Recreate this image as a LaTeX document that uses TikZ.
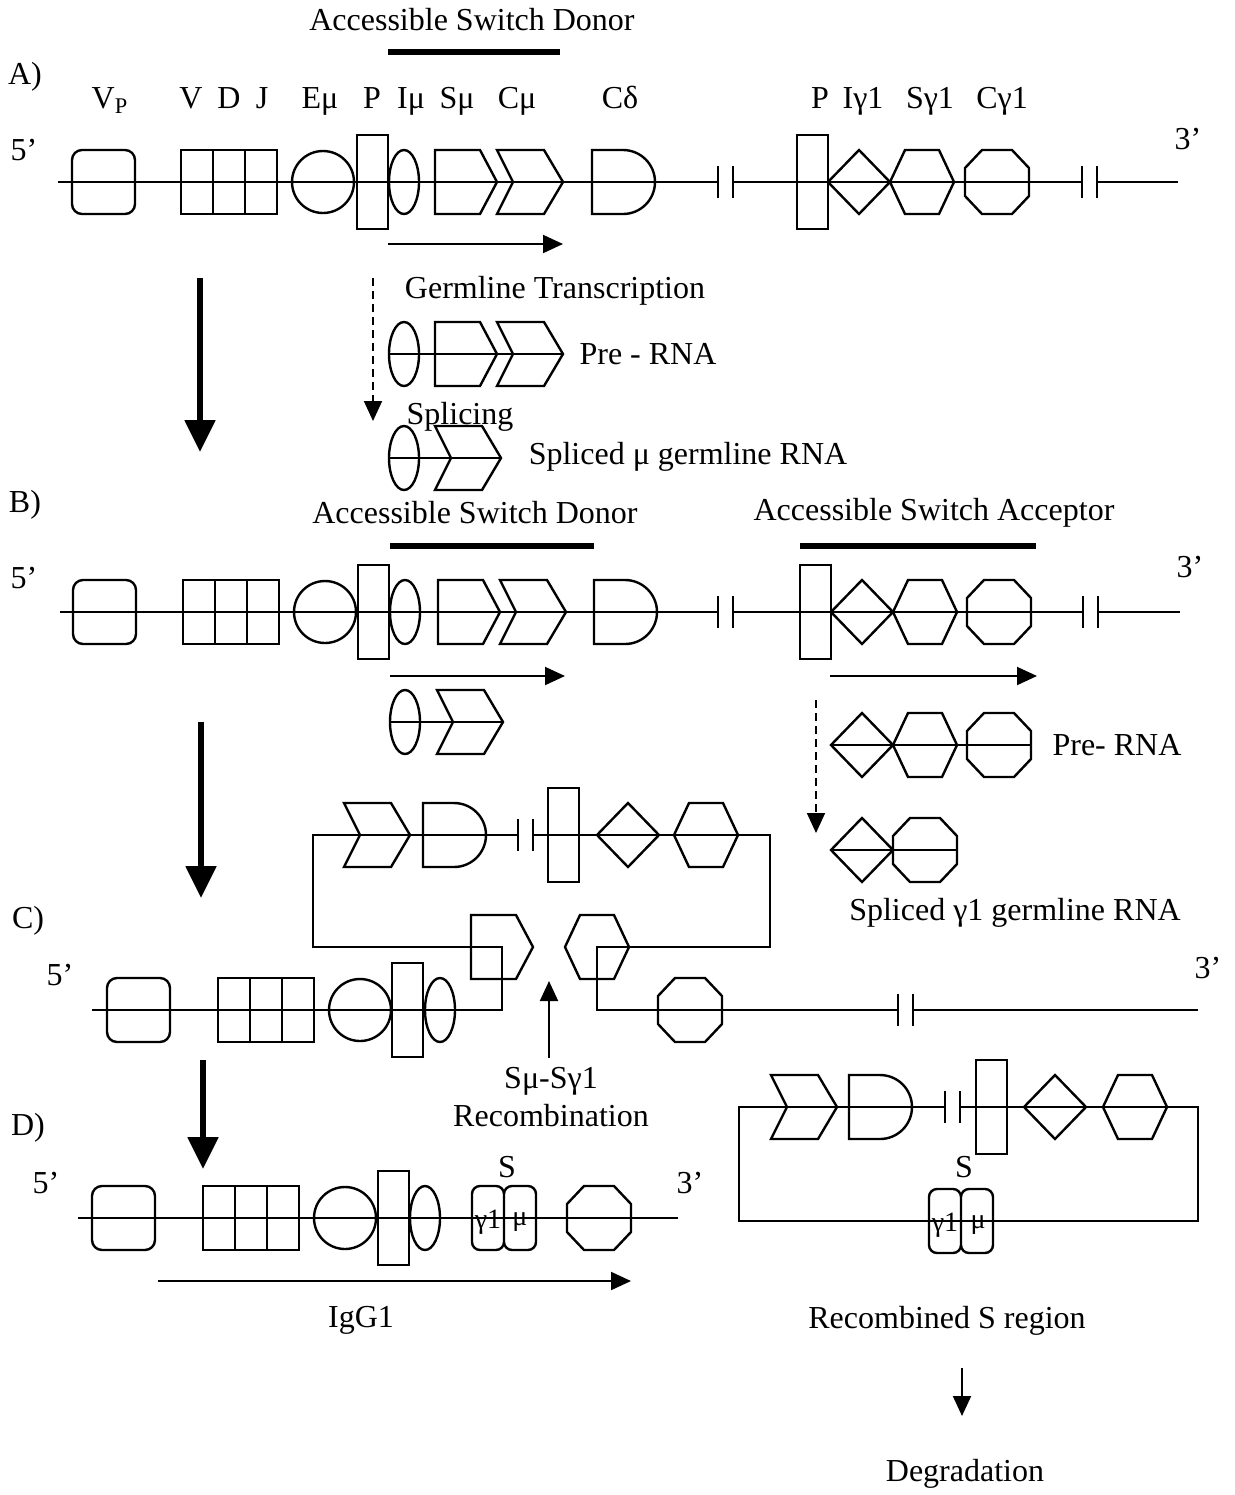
\documentclass[tikz,border=0pt]{standalone}
\usepackage{fontspec}
\setmainfont{Liberation Serif}
\usetikzlibrary{arrows.meta}
\newcommand{\gVp}[2]{\draw[el,rounded corners=5pt,shift={(#1,#2)}] (0,-32) rectangle (63,32);}
\newcommand{\gVDJ}[2]{\draw[el,shift={(#1,#2)}] (0,-32) rectangle (96,32) (32,-32)--(32,32) (64,-32)--(64,32);}
\newcommand{\gEmu}[2]{\draw[el,shift={(#1,#2)}] (31,0) circle[radius=31];}
\newcommand{\gPr}[2]{\draw[el,shift={(#1,#2)}] (0,-47) rectangle (31,47);}
\newcommand{\gImu}[2]{\draw[el,shift={(#1,#2)}] (15,0) ellipse[x radius=15,y radius=32];}
\newcommand{\gSmu}[2]{\draw[el,shift={(#1,#2)}] (0,-32)--(45,-32)--(62,0)--(45,32)--(0,32)--cycle;}
\newcommand{\gCmu}[2]{\draw[el,shift={(#1,#2)}] (0,-32)--(47,-32)--(66,0)--(47,32)--(0,32)--(16,0)--cycle;}
\newcommand{\gCd}[2]{\draw[el,shift={(#1,#2)}] (0,32)--(0,-32)--(31,-32) arc[start angle=-90,end angle=90,radius=32]--cycle;}
\newcommand{\gIg}[2]{\draw[el,shift={(#1,#2)}] (0,0)--(31,-32)--(62,0)--(31,32)--cycle;}
\newcommand{\gSg}[2]{\draw[el,shift={(#1,#2)}] (0,0)--(15,-32)--(49,-32)--(64,0)--(49,32)--(15,32)--cycle;}
\newcommand{\gCg}[2]{\draw[el,shift={(#1,#2)}] (0,-14)--(17,-32)--(47,-32)--(64,-14)--(64,14)--(47,32)--(17,32)--(0,14)--cycle;}
\newcommand{\gBrk}[2]{\draw[el,shift={(#1,#2)}] (0,-16)--(0,16) (15,-16)--(15,16);}
\newcommand{\gSbox}[2]{\draw[el,rounded corners=4pt,shift={(#1,#2)}] (0,-32) rectangle (32,32) (32,-32) rectangle (64,32);}
\begin{document}
\begin{tikzpicture}[x=0.5pt,y=-0.5pt,
  el/.style={line width=1.2pt},
  dna/.style={line width=1.2pt},
  lbl/.style={font=\fontsize{16}{19}\selectfont, inner sep=0pt},
  gl/.style={lbl, anchor=base},
  slbl/.style={font=\fontsize{14}{16}\selectfont, inner sep=0pt},
  bigarrow/.style={line width=2.6pt, -{Triangle[width=15pt,length=16pt]}},
  smallarrow/.style={line width=1pt, -{Triangle[width=9pt,length=10pt]}},
  dasharrow/.style={line width=0.9pt, dash pattern=on 4pt off 2.5pt, -{Triangle[width=9pt,length=10pt]}},
  accbar/.style={line width=3pt}]
\useasboundingbox (0,0) rectangle (1235,1495);
% ---------------- Row A ----------------
\node[lbl] (tAcc1) at (472,20) {Accessible Switch Donor};
\node[lbl] (tA) at (25,77) {A)};
\node[gl] (tVp) at (110,108) {V\textsubscript{P}};
\node[gl] (tV) at (191,108) {V};
\node[gl] (tD) at (229,108) {D};
\node[gl] (tJ) at (262,108) {J};
\node[gl] (tEmu) at (320,108) {Eμ};
\node[gl] (tP1) at (372,108) {P};
\node[gl] (tImu) at (411,108) {Iμ};
\node[gl] (tSmu) at (457,108) {Sμ};
\node[gl] (tCmu) at (517,108) {Cμ};
\node[gl] (tCd) at (620,108) {Cδ};
\node[gl] (tP2) at (820,108) {P};
\node[gl] (tIg) at (863,108) {Iγ1};
\node[gl] (tSg) at (930,108) {Sγ1};
\node[gl] (tCg) at (1002,108) {Cγ1};
\node[lbl] (tA5) at (24,150) {5’};
\node[lbl] (tA3) at (1188,139) {3’};
\draw[accbar] (388,52)--(560,52);
\draw[dna] (58,182)--(718,182) (733,182)--(1082,182) (1097,182)--(1178,182);
\gVp{72}{182} \gVDJ{181}{182} \gEmu{292}{182} \gPr{357}{182} \gImu{389}{182}
\gSmu{435}{182} \gCmu{497}{182} \gCd{592}{182} \gBrk{718}{182}
\gPr{797}{182} \gIg{828}{182} \gSg{890}{182} \gCg{965}{182} \gBrk{1082}{182}
\coordinate (trA1) at (388,244); \coordinate (trA2) at (563,244);
\draw[smallarrow] (trA1)--(trA2);
% transcription products (mu)
\node[lbl] (tGT) at (555,291) {Germline Transcription};
\draw[dna] (389,354)--(562,354);
\gImu{389}{354} \gSmu{435}{354} \gCmu{497}{354}
\node[lbl] (tPre1) at (648,354) {Pre - RNA};
\node[lbl] (tSpl) at (460,417) {Splicing};
\draw[dna] (389,458)--(500,458);
\gImu{389}{458} \gCmu{435}{458}
\node[lbl] (tSpmu) at (688,457) {Spliced μ germline RNA};
\coordinate (dsA1) at (373,278); \coordinate (dsA2) at (373,421);
\draw[dasharrow] (dsA1)--(dsA2);
\coordinate (bA1) at (200,278); \coordinate (bA2) at (200,452);
\draw[bigarrow] (bA1)--(bA2);
% ---------------- Row B ----------------
\node[lbl] (tB) at (25,505) {B)};
\node[lbl] (tAcc2) at (475,513) {Accessible Switch Donor};
\node[lbl] (tAcc3) at (934,513) {Accessible Switch Acceptor};
\draw[accbar] (390,546)--(594,546) (800,546)--(1036,546);
\node[lbl] (tB5) at (24,578) {5’};
\node[lbl] (tB3) at (1190,567) {3’};
\draw[dna] (60,612)--(718,612) (733,612)--(1083,612) (1098,612)--(1180,612);
\gVp{73}{612} \gVDJ{183}{612} \gEmu{294}{612} \gPr{358}{612} \gImu{390}{612}
\gSmu{438}{612} \gCmu{500}{612} \gCd{594}{612} \gBrk{718}{612}
\gPr{800}{612} \gIg{831}{612} \gSg{893}{612} \gCg{967}{612} \gBrk{1083}{612}
\coordinate (trB1) at (390,676); \coordinate (trB2) at (565,676);
\draw[smallarrow] (trB1)--(trB2);
\coordinate (trB3) at (830,676); \coordinate (trB4) at (1037,676);
\draw[smallarrow] (trB3)--(trB4);
\draw[dna] (390,722)--(502,722);
\gImu{390}{722} \gCmu{437}{722}
\draw[dna] (831,745)--(1031,745);
\gIg{831}{745} \gSg{893}{745} \gCg{967}{745}
\node[lbl] (tPre2) at (1117,745) {Pre- RNA};
\draw[dna] (831,850)--(957,850);
\gIg{831}{850} \gCg{893}{850}
\node[lbl] (tSpg) at (1015,913) {Spliced γ1 germline RNA};
\coordinate (dsB1) at (816,700); \coordinate (dsB2) at (816,833);
\draw[dasharrow] (dsB1)--(dsB2);
\coordinate (bB1) at (201,722); \coordinate (bB2) at (201,898);
\draw[bigarrow] (bB1)--(bB2);
% ---------------- Row C ----------------
\node[lbl] (tC) at (28,921) {C)};
\node[lbl] (tC5) at (60,975) {5’};
\node[lbl] (tC3) at (1208,968) {3’};
\draw[dna] (92,1010)--(502,1010)--(502,947)--(313,947)--(313,835)--(518,835);
\draw[dna] (533,835)--(770,835)--(770,947)--(597,947)--(597,1010)--(898,1010);
\draw[dna] (913,1010)--(1198,1010);
\gVp{107}{1010} \gVDJ{218}{1010} \gEmu{329}{1010} \gPr{392}{1010} \gImu{425}{1010}
\gCmu{344}{835} \gCd{423}{835} \gBrk{518}{835} \gPr{548}{835} \gIg{597}{835} \gSg{674}{835}
\gSmu{471}{947} \gSg{565}{947}
\gCg{658}{1010} \gBrk{898}{1010}
\coordinate (rc1) at (549,1058); \coordinate (rc2) at (549,981);
\draw[smallarrow] (rc1)--(rc2);
\node[lbl] (tSS) at (551,1081) {Sμ-Sγ1};
\node[lbl] (tRec) at (551,1116) {Recombination};
\coordinate (bC1) at (203,1060); \coordinate (bC2) at (203,1169);
\draw[bigarrow] (bC1)--(bC2);
% ---------------- Row D ----------------
\node[lbl] (tD2) at (28,1128) {D)};
\node[lbl] (tD5) at (46,1183) {5’};
\node[lbl] (tD3) at (690,1183) {3’};
\draw[dna] (78,1218)--(678,1218);
\gVp{92}{1218} \gVDJ{203}{1218} \gEmu{314}{1218} \gPr{378}{1218} \gImu{410}{1218}
\gSbox{472}{1218} \gCg{567}{1218}
\node[lbl] (tS1) at (507,1167) {S};
\node[slbl] (tg1) at (488,1222) {γ1};
\node[slbl] (tm1) at (520,1222) {μ};
\coordinate (ig1) at (158,1281); \coordinate (ig2) at (631,1281);
\draw[smallarrow] (ig1)--(ig2);
\node[lbl] (tIgG) at (361,1320) {IgG1};
% right loop
\draw[dna] (945,1107)--(739,1107)--(739,1221)--(1198,1221)--(1198,1107)--(960,1107);
\gCmu{771}{1107} \gCd{849}{1107} \gBrk{945}{1107} \gPr{976}{1107} \gIg{1024}{1107} \gSg{1103}{1107}
\gSbox{929}{1221}
\node[lbl] (tS2) at (964,1167) {S};
\node[slbl] (tg2) at (945,1225) {γ1};
\node[slbl] (tm2) at (978,1225) {μ};
\node[lbl] (tRS) at (947,1321) {Recombined S region};
\coordinate (dg1) at (962,1368); \coordinate (dg2) at (962,1416);
\draw[smallarrow] (dg1)--(dg2);
\node[lbl] (tDeg) at (965,1474) {Degradation};
\end{tikzpicture}
\end{document}
